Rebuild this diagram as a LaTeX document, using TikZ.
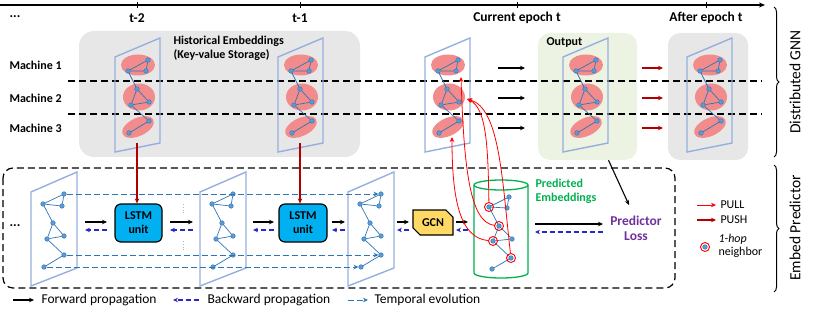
\documentclass[tikz,border=0pt]{standalone}
\usepackage{fontspec}
\setmainfont{Carlito}
\usetikzlibrary{arrows.meta,decorations.pathreplacing,calc,shapes.misc}
\definecolor{boxgray}{RGB}{231,231,231}
\definecolor{boxgreen}{RGB}{236,243,226}
\definecolor{planeblue}{RGB}{150,175,222}
\definecolor{ellred}{RGB}{242,140,140}
\definecolor{nodeblue}{RGB}{91,155,213}
\definecolor{edgeblue}{RGB}{46,117,182}
\definecolor{lstmblue}{RGB}{0,176,240}
\definecolor{gcnyellow}{RGB}{255,217,102}
\definecolor{pushred}{RGB}{176,0,0}
\definecolor{pullred}{RGB}{255,0,0}
\definecolor{backnavy}{RGB}{40,40,200}
\definecolor{predgreen}{RGB}{0,176,80}
\definecolor{losspurple}{RGB}{112,48,160}
\definecolor{dotblue}{RGB}{150,190,230}

\newcommand{\upgraph}[2]{%
\begin{scope}[xshift=#2pt]
\fill[ellred] (138,65) ellipse [x radius=17, y radius=10.5];
\fill[ellred] (139,97) ellipse [x radius=16, y radius=13.5];
\fill[ellred,rotate around={25:(138,127)}] (138,127) ellipse [x radius=17, y radius=9];
\draw[plane] (115,57) -- (160,38) -- (160,143) -- (115,152) -- cycle;
\node[gnode] (#1a) at (128,71) {};
\node[gnode] (#1b) at (148,60) {};
\node[gnode] (#1c) at (146,71) {};
\node[gnode] (#1d) at (137,89) {};
\node[gnode] (#1e) at (149,102) {};
\node[gnode] (#1f) at (131,105) {};
\node[gnode] (#1g) at (149,121) {};
\node[gnode] (#1h) at (129,133) {};
\draw[gedge] (#1a)--(#1b) (#1b)--(#1c) (#1c)--(#1a) (#1a)--(#1d) (#1d)--(#1e) (#1e)--(#1f) (#1f)--(#1d) (#1f)--(#1g) (#1g)--(#1h);
\end{scope}}

\newcommand{\lowgraph}[2]{%
\begin{scope}[xshift=#2pt]
\draw[plane] (31,192) -- (77,172) -- (77,268) -- (31,286) -- cycle;
\node[gnode] (#1a) at (64,194) {};
\node[gnode] (#1b) at (43,204) {};
\node[gnode] (#1c) at (62,206) {};
\node[gnode] (#1d) at (53,223) {};
\node[gnode] (#1e) at (64,236) {};
\node[gnode] (#1f) at (47,239) {};
\node[gnode] (#1g) at (64,255) {};
\node[gnode] (#1h) at (44,267) {};
\draw[gedge] (#1b)--(#1a) (#1b)--(#1c) (#1a)--(#1c) (#1b)--(#1d) (#1d)--(#1e) (#1d)--(#1f) (#1e)--(#1f) (#1f)--(#1g) (#1g)--(#1h);
\end{scope}}

\begin{document}
\begin{tikzpicture}[x=1pt,y=-1pt,
  gnode/.style={circle,fill=nodeblue,draw=edgeblue,line width=0.4pt,inner sep=0pt,minimum size=4.6pt},
  gedge/.style={edgeblue,line width=0.7pt},
  plane/.style={draw=planeblue,line width=1.4pt},
  sep/.style={dash pattern=on 7pt off 4pt, line width=1.2pt},
  fwd/.style={-{Stealth[length=5pt,width=4.5pt]},line width=1.1pt},
  bwd/.style={-{Stealth[length=5pt,width=4.5pt]},line width=1.1pt,backnavy,dash pattern=on 5pt off 3pt},
  temp/.style={-{Stealth[length=5pt,width=4.5pt]},line width=0.9pt,edgeblue,dash pattern=on 6pt off 3pt},
  push/.style={-{Stealth[length=5pt,width=4.5pt]},line width=1.1pt,pushred},
  pull/.style={-{Stealth[length=5pt,width=4.5pt]},line width=0.8pt,pullred},
  hop/.style={circle,draw=pullred,line width=0.9pt,inner sep=0pt,minimum size=9pt},
  tlab/.style={font=\bfseries\fontsize{13.5}{15}\selectfont},
  mlab/.style={font=\bfseries\fontsize{12}{14}\selectfont},
  leg/.style={font=\fontsize{12}{13}\selectfont},
  bleg/.style={font=\fontsize{13.5}{15}\selectfont},
  side/.style={font=\fontsize{15.5}{17}\selectfont,rotate=90},
  brc/.style={decorate,decoration={brace,amplitude=5pt},line width=1pt}
]
\useasboundingbox (0,0) rectangle (814,318);

% timeline
\draw[-{Stealth[length=6pt,width=5pt]},line width=1.2pt] (0,5) -- (765,5);
\foreach \x in {137,300,517,706} \draw[line width=0.6pt] (\x,2.5) -- (\x,8);
\node[tlab] (dots1) at (15,17) {...};
\node[tlab] (tm2) at (137,18) {t-2};
\node[tlab] (tm1) at (300,18) {t-1};
\node[tlab] (tcur) at (517,18) {Current epoch t};
\node[tlab] (taft) at (706,18) {After epoch t};

% background boxes
\node[fill=boxgray,rounded corners=15pt,minimum width=281pt,minimum height=126pt,inner sep=0] (hist) at (219.5,94) {};
\node[fill=boxgreen,rounded corners=12pt,minimum width=99pt,minimum height=127pt,inner sep=0] (outbox) at (587.5,96.5) {};
\node[fill=boxgray,rounded corners=12pt,minimum width=80pt,minimum height=127pt,inner sep=0] (aftbox) at (708,96.5) {};
\node[mlab,anchor=west,align=left] (histlab) at (170,48) {Historical Embeddings\\(Key-value Storage)};
\node[mlab,anchor=west] (outlab) at (543,43) {Output};

% machine labels and separators
\node[mlab,anchor=west] (m1) at (6,65) {Machine 1};
\node[mlab,anchor=west] (m2) at (6,98) {Machine 2};
\node[mlab,anchor=west] (m3) at (6,128) {Machine 3};
\draw[sep] (68,81) -- (762,81);
\draw[sep] (68,114) -- (762,114);

% upper planes
\upgraph{p}{0}
\upgraph{q}{163}
\upgraph{r}{310}
\upgraph{s}{448}
\upgraph{u}{572}

% arrows to output and after
\foreach \y in {68,98,128} {
  \draw[fwd] (498,\y) -- (525,\y);
  \draw[push] (642,\y) -- (663,\y);
}

% bottom dashed box
\draw[dash pattern=on 7pt off 4pt,line width=1.2pt,rounded corners=10pt] (3,168) rectangle (675,288);

% lower planes
\lowgraph{la}{0}
\lowgraph{lb}{169}
\lowgraph{lc}{317}

% temporal evolution
\draw[temp] (laa) -- (lca);
\draw[temp] (lag) -- (lcg);
\draw[temp] (lah) -- (lch);
\draw[dotblue,line width=0.8pt,dotted] (183,204) -- (183,214);
\draw[dotblue,line width=0.8pt,dotted] (183,241) -- (183,251);

% LSTM units and GCN
\node[draw,line width=1.2pt,fill=lstmblue,rounded corners=6pt,minimum width=47pt,minimum height=38pt,align=center,mlab,inner sep=0] (lstm1) at (138.5,223) {LSTM\\unit};
\node[draw,line width=1.2pt,fill=lstmblue,rounded corners=6pt,minimum width=48pt,minimum height=38pt,align=center,mlab,inner sep=0] (lstm2) at (303,223) {LSTM\\unit};
\node[draw,line width=1.1pt,fill=gcnyellow,chamfered rectangle,chamfered rectangle corners={north east,south west},chamfered rectangle xsep=5pt,minimum width=40pt,minimum height=25pt,inner sep=0,mlab] (gcn) at (433,222.5) {GCN};

\coordinate (pb1) at (137,143);
\coordinate (pb2) at (300,143);
\draw[push] (pb1) -- (pb1 |- lstm1.north);
\draw[push] (pb2) -- (pb2 |- lstm2.north);

\node[tlab] (dots2) at (15,226) {...};

% forward / backward arrows
\foreach \a/\b in {85/107,170/193,253/274,332/345,397/409,456/468} {
  \draw[fwd] (\a,222) -- (\b,222);
  \draw[bwd] (\b,230) -- (\a,230);
}

% cylinder
\node[minimum width=54pt,minimum height=98pt,inner sep=0] (cyl) at (501,229) {};
\draw[predgreen,line width=1.3pt,fill=white] (474,185) -- (474,273) arc[start angle=180,end angle=360,x radius=27,y radius=-5] -- (528,185);
\draw[predgreen,line width=1.3pt] (501,185) ellipse [x radius=27,y radius=5];
\node[gnode] (ca) at (489,207) {};
\node[gnode] (cb) at (509,197) {};
\node[gnode] (cc) at (507,208) {};
\node[gnode] (cd) at (499,226) {};
\node[gnode] (ce) at (512,239) {};
\node[gnode] (cf) at (493,241) {};
\node[gnode] (cg) at (511,258) {};
\node[gnode] (ch) at (492,269) {};
\draw[gedge] (ca)--(cb) (ca)--(cc) (cb)--(cc) (ca)--(cd) (cd)--(ce) (cd)--(cf) (ce)--(cf) (cf)--(cg) (cg)--(ch);
\node[hop] (ha) at (ca) {};
\node[hop] (hd) at (cd) {};
\node[hop] (hf) at (cf) {};
\node[hop] (hg) at (cg) {};

\node[mlab,text=predgreen,anchor=west,align=left] (predlab) at (532,191) {Predicted\\Embeddings};
\node[tlab,text=losspurple,align=center] (loss) at (636,228) {Predictor\\Loss};
\draw[fwd] (535,224) -- (603,224);
\draw[bwd] (603,232) -- (535,232);
\draw[fwd] ($(outbox.south)+(21,0)$) -- (629,205);

% pull curves
\coordinate (tg3) at (452,137);
\coordinate (tg1) at (461,77);
\coordinate (tg2) at (467,99);
\draw[pull] (hf) .. controls (460,238) and (452,200) .. (tg3);
\draw[pull] (hd) .. controls (470,222) and (464,170) .. (tg1);
\draw[pull] (ha) .. controls (488,150) and (487,108) .. (tg2);
\draw[pull] (hg) .. controls (502,180) and (500,108) .. (tg2);

% legend right
\draw[pull] (697,205) -- (716,205);
\node[leg,anchor=west] (pulllab) at (717,205) {PULL};
\draw[push] (697,220) -- (716,220);
\node[leg,anchor=west] (pushlab) at (717,220) {PUSH};
\node[gnode] (lgn) at (705,247) {};
\node[hop] (lgh) at (705,247) {};
\node[leg,anchor=west,align=left] (hoplab) at (715,246) {\textit{1-hop}\\neighbor};

% braces
\draw[brc] (774,7) -- (774,157);
\draw[brc] (774,165) -- (774,292);
\node[side] (dgnn) at (795,82) {Distributed GNN};
\node[side] (ep) at (795,228) {Embed Predictor};

% bottom legend
\draw[fwd] (13,300) -- (34,300);
\node[bleg,anchor=west] (fl) at (38,300) {Forward propagation};
\draw[bwd] (199,300) -- (173,300);
\node[bleg,anchor=west] (bl) at (204,300) {Backward propagation};
\draw[temp] (348,300) -- (368,300);
\node[bleg,anchor=west] (tl) at (371,300) {Temporal evolution};
\end{tikzpicture}
\end{document}
